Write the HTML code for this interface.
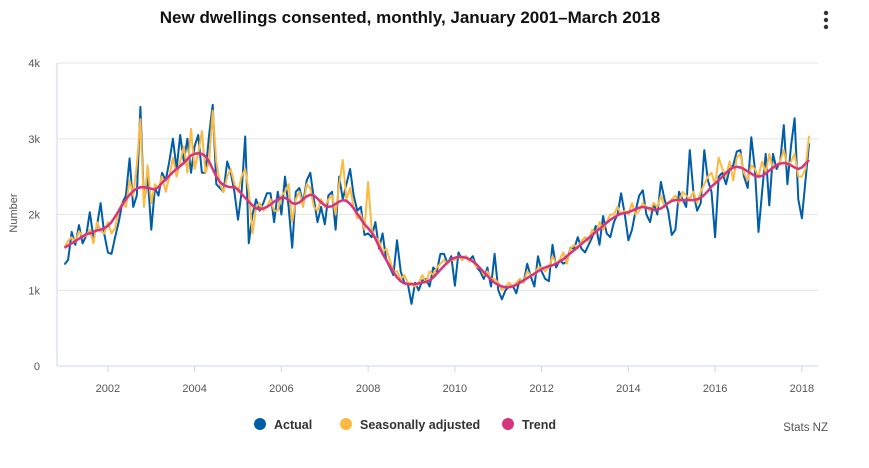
<!DOCTYPE html>
<html><head><meta charset="utf-8"><style>
html,body{margin:0;padding:0;background:#fff;}
body{width:869px;height:463px;overflow:hidden;font-family:"Liberation Sans",sans-serif;}
svg text{font-family:"Liberation Sans",sans-serif;}
</style></head><body>
<svg id="chart" width="869" height="463" xmlns="http://www.w3.org/2000/svg">
<text x="410" y="23" text-anchor="middle" font-size="17" font-weight="bold" fill="#111">New dwellings consented, monthly, January 2001–March 2018</text>
<g fill="#333"><circle cx="826" cy="13" r="2.2"/><circle cx="826" cy="20" r="2.2"/><circle cx="826" cy="27" r="2.2"/></g>
<text transform="translate(17,213) rotate(-90)" text-anchor="middle" font-size="11" fill="#555">Number</text>
<g id="grid"></g><g id="series"></g><g id="xt"></g>
<g font-size="12.5" font-weight="bold" fill="#333">
<g><circle cx="260" cy="424" r="6" fill="#005DA8"/><text x="274" y="429">Actual</text></g>
<g><circle cx="346" cy="424" r="6" fill="#FDB940"/><text x="360" y="429">Seasonally adjusted</text></g>
<g><circle cx="508" cy="424" r="6" fill="#D6357D"/><text x="522" y="429">Trend</text></g>
</g>
<text x="828" y="431" text-anchor="end" font-size="11.5" fill="#555">Stats NZ</text>
</svg>
<script>
const yTicks=[0,1000,2000,3000,4000];
const yTickLabels=["0","1k","2k","3k","4k"];
const xTickYears=[2002,2004,2006,2008,2010,2012,2014,2016,2018];
const actual=[1340,1400,1770,1600,1860,1620,1720,2030,1700,1850,2150,1740,
1500,1480,1700,1900,2150,2250,2740,2100,2250,3420,2150,2500,
1800,2350,2250,2550,2450,2700,3000,2600,3050,2700,3000,2550,
2900,3050,2550,2550,3050,3450,2400,2350,2300,2700,2550,2300,
1930,2300,3030,1620,2000,2200,2050,2150,2280,2280,1900,2300,
2000,2500,2100,1560,2300,2350,2150,2450,2550,2200,1900,2100,
1870,2250,2300,1800,2500,2200,2400,2600,2250,2050,2100,1730,
1750,1700,1900,1550,1750,1400,1300,1200,1660,1250,1100,1080,
820,1100,1000,1130,1150,1050,1300,1250,1480,1480,1350,1450,
1060,1500,1400,1450,1400,1450,1300,1250,1150,1300,1050,1480,
1000,880,1000,1050,1060,960,1150,1100,1350,1180,1050,1450,
1250,1150,1120,1600,1300,1400,1350,1380,1560,1550,1700,1550,
1500,1600,1700,1850,1600,1980,1750,1700,1900,2000,2280,2000,
1660,1800,2050,2250,2320,2000,1900,2150,2000,2430,2200,2050,
1730,1800,2300,2200,2100,2850,2300,2050,2150,2850,2450,2300,
1700,2500,2550,2400,2600,2650,2830,2850,2500,2350,3020,2600,
1770,2300,2800,2120,2800,2600,2700,3180,2400,2900,3270,2200,
1950,2450,2940];
const seasonal=[1570,1650,1700,1640,1780,1700,1720,1800,1620,1900,1780,1750,
1900,1750,1820,2050,2150,2100,2450,2250,2650,3260,2100,2650,
2150,2400,2350,2500,2300,2500,2750,2500,2700,2900,2550,3130,
2600,2800,3100,2550,2700,3370,2700,2400,2300,2500,2600,2400,
2300,2500,2600,2300,1750,2100,2150,2050,2100,2200,2050,2050,
2250,2300,2400,1900,2200,2300,2100,2400,2350,2100,2050,2200,
2100,2200,2250,2000,2400,2720,2200,2350,2100,1950,2000,1800,
2430,1800,1700,1650,1500,1550,1400,1250,1250,1150,1200,1100,
1100,1050,1100,1200,1100,1250,1200,1300,1350,1400,1350,1400,
1400,1450,1400,1450,1380,1400,1300,1300,1200,1250,1150,1150,
1100,1000,1050,1100,1050,1100,1150,1100,1250,1200,1200,1300,
1300,1250,1300,1450,1350,1400,1500,1350,1550,1600,1550,1650,
1700,1650,1800,1750,1900,1800,1900,2000,2000,2100,2000,2050,
2000,2150,2000,2050,2150,2100,2050,2150,2100,2250,2100,2150,
2200,2250,2150,2300,2250,2200,2300,2150,2300,2400,2500,2550,
2400,2750,2600,2500,2700,2450,2750,2800,2550,2450,2650,2600,
2500,2700,2550,2800,2600,2650,2700,2850,2650,2700,2800,2500,
2500,2600,3040];
const trend=[1560,1590,1620,1650,1680,1710,1740,1750,1770,1790,1800,1820,
1850,1900,1970,2050,2130,2200,2260,2310,2340,2360,2360,2350,
2340,2330,2360,2420,2460,2510,2560,2600,2640,2680,2730,2780,
2800,2810,2800,2770,2700,2600,2500,2430,2390,2370,2360,2360,
2330,2270,2220,2170,2120,2080,2070,2080,2100,2130,2170,2200,
2220,2220,2190,2150,2140,2160,2200,2240,2260,2250,2210,2160,
2120,2100,2110,2140,2170,2190,2180,2140,2080,2010,1940,1870,
1820,1760,1680,1580,1480,1400,1320,1240,1170,1120,1090,1080,
1080,1080,1090,1100,1110,1130,1170,1220,1270,1320,1370,1410,
1430,1440,1440,1430,1410,1380,1340,1290,1240,1190,1140,1100,
1070,1050,1040,1040,1050,1070,1100,1130,1160,1190,1220,1250,
1280,1300,1320,1330,1350,1380,1410,1450,1490,1530,1570,1610,
1650,1690,1730,1770,1810,1850,1890,1930,1960,1990,2010,2020,
2030,2050,2070,2090,2100,2090,2080,2060,2060,2080,2110,2150,
2180,2190,2190,2190,2190,2190,2190,2200,2220,2260,2310,2370,
2410,2450,2500,2550,2590,2620,2630,2620,2600,2570,2540,2510,
2500,2510,2540,2580,2620,2650,2670,2680,2670,2650,2620,2600,
2620,2670,2720];
const NS="http://www.w3.org/2000/svg";
const X0=57,X1=818,Y0=366,Y4=63;
function yScale(v){return Y0-(v/4000)*(Y0-Y4);}
function xScale(m){return 64.5+m*(43.375/12);}
function xYear(y){return xScale((y-2001)*12);}
const grid=document.getElementById('grid');
yTicks.forEach((t,i)=>{
 const l=document.createElementNS(NS,'line');
 l.setAttribute('x1',X0);l.setAttribute('x2',X1);l.setAttribute('y1',yScale(t));l.setAttribute('y2',yScale(t));
 l.setAttribute('stroke',i===0?'#ccd6eb':'#e6e6e6');l.setAttribute('stroke-width','1');
 
 
 grid.appendChild(l);
 const tx=document.createElementNS(NS,'text');
 tx.setAttribute('x',40);tx.setAttribute('y',yScale(t)+4);tx.setAttribute('text-anchor','end');
 tx.setAttribute('font-size','11');tx.setAttribute('fill','#555');tx.textContent=yTickLabels[i];
 
 
 grid.appendChild(tx);
});
const ax=document.createElementNS(NS,'line');
ax.setAttribute('x1',X0);ax.setAttribute('x2',X0);ax.setAttribute('y1',Y4);ax.setAttribute('y2',Y0);
ax.setAttribute('stroke','#ccd6eb');


grid.appendChild(ax);
const xt=document.getElementById('xt');
xTickYears.forEach(y=>{
 const x=xYear(y);
 const tk=document.createElementNS(NS,'line');
 tk.setAttribute('x1',x);tk.setAttribute('x2',x);tk.setAttribute('y1',Y0);tk.setAttribute('y2',Y0+6);tk.setAttribute('stroke','#ccd6eb');
 
 
 xt.appendChild(tk);
 const tx=document.createElementNS(NS,'text');
 tx.setAttribute('x',x);tx.setAttribute('y',392);tx.setAttribute('text-anchor','middle');
 tx.setAttribute('font-size','11');tx.setAttribute('fill','#555');tx.textContent=y;
 
 
 xt.appendChild(tx);
});
const sg=document.getElementById('series');
function drawLine(arr,color,name){
 const p=document.createElementNS(NS,'path');
 p.setAttribute('d',arr.map((v,i)=>(i?'L':'M')+xScale(i).toFixed(1)+','+yScale(v).toFixed(1)).join(''));
 p.setAttribute('fill','none');p.setAttribute('stroke',color);p.setAttribute('stroke-width',name==='trend-line'?'2.5':'2');
 p.setAttribute('stroke-linejoin','round');
 
 
 sg.appendChild(p);
}
drawLine(actual,'#005DA8','actual-line');
drawLine(seasonal,'#FDB940','seasonally-adjusted-line');
drawLine(trend,'#D6357D','trend-line');
</script>
</body></html>
